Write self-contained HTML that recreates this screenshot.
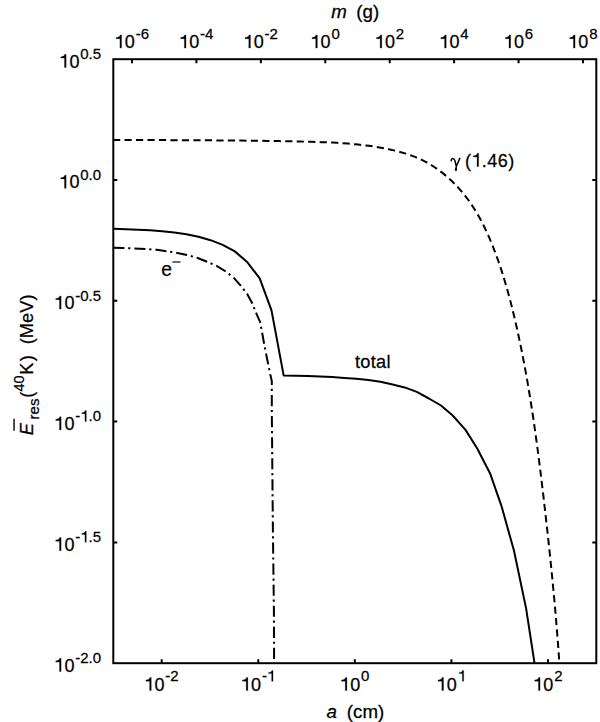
<!DOCTYPE html>
<html><head><meta charset="utf-8"><style>
html,body{margin:0;padding:0;background:#fff;width:600px;height:722px;overflow:hidden}
svg{display:block}
</style></head><body><svg width="600" height="722" viewBox="0 0 600 722" font-family='"Liberation Sans", sans-serif' fill="#000"><style>text,.g1{stroke:#000;stroke-width:0.25px;stroke-linejoin:round}</style><rect x="113.3" y="59.2" width="483.00" height="604.00" fill="none" stroke="#000" stroke-width="2.0"/><path d="M132.00 59.2v4.0 M196.43 59.2v4.0 M260.86 59.2v4.0 M325.29 59.2v4.0 M389.71 59.2v4.0 M454.14 59.2v4.0 M518.57 59.2v4.0 M583.00 59.2v4.0 M161.70 663.2v-4.0 M258.27 663.2v-4.0 M354.85 663.2v-4.0 M451.43 663.2v-4.0 M548.00 663.2v-4.0 M113.3 180.00h4.0 M596.3 180.00h-4.0 M113.3 300.80h4.0 M596.3 300.80h-4.0 M113.3 421.60h4.0 M596.3 421.60h-4.0 M113.3 542.40h4.0 M596.3 542.40h-4.0" stroke="#000" stroke-width="2.0" fill="none"/><g transform="translate(114.24,48.10) scale(1.0,1.04)"><text x="10.61" y="0" font-size="18.0">0</text><path class="g1" d="M7.33 0.00 L7.33 -12.65 L6.01 -12.65 C5.58 -11.16 4.50 -10.40 1.96 -10.21 L1.96 -9.05 L5.69 -9.05 L5.69 0.00Z"/></g><g transform="translate(135.64,39.30) scale(1.0,1.03)"><text x="0.00 5.00" y="0" font-size="15.0">-6</text></g><g transform="translate(178.67,48.10) scale(1.0,1.04)"><text x="10.61" y="0" font-size="18.0">0</text><path class="g1" d="M7.33 0.00 L7.33 -12.65 L6.01 -12.65 C5.58 -11.16 4.50 -10.40 1.96 -10.21 L1.96 -9.05 L5.69 -9.05 L5.69 0.00Z"/></g><g transform="translate(200.07,39.30) scale(1.0,1.03)"><text x="0.00 5.00" y="0" font-size="15.0">-4</text></g><g transform="translate(243.10,48.10) scale(1.0,1.04)"><text x="10.61" y="0" font-size="18.0">0</text><path class="g1" d="M7.33 0.00 L7.33 -12.65 L6.01 -12.65 C5.58 -11.16 4.50 -10.40 1.96 -10.21 L1.96 -9.05 L5.69 -9.05 L5.69 0.00Z"/></g><g transform="translate(264.50,39.30) scale(1.0,1.03)"><text x="0.00 5.00" y="0" font-size="15.0">-2</text></g><g transform="translate(310.02,48.10) scale(1.0,1.04)"><text x="10.61" y="0" font-size="18.0">0</text><path class="g1" d="M7.33 0.00 L7.33 -12.65 L6.01 -12.65 C5.58 -11.16 4.50 -10.40 1.96 -10.21 L1.96 -9.05 L5.69 -9.05 L5.69 0.00Z"/></g><g transform="translate(331.42,39.30) scale(1.0,1.03)"><text x="0.00" y="0" font-size="15.0">0</text></g><g transform="translate(374.45,48.10) scale(1.0,1.04)"><text x="10.61" y="0" font-size="18.0">0</text><path class="g1" d="M7.33 0.00 L7.33 -12.65 L6.01 -12.65 C5.58 -11.16 4.50 -10.40 1.96 -10.21 L1.96 -9.05 L5.69 -9.05 L5.69 0.00Z"/></g><g transform="translate(395.85,39.30) scale(1.0,1.03)"><text x="0.00" y="0" font-size="15.0">2</text></g><g transform="translate(438.88,48.10) scale(1.0,1.04)"><text x="10.61" y="0" font-size="18.0">0</text><path class="g1" d="M7.33 0.00 L7.33 -12.65 L6.01 -12.65 C5.58 -11.16 4.50 -10.40 1.96 -10.21 L1.96 -9.05 L5.69 -9.05 L5.69 0.00Z"/></g><g transform="translate(460.28,39.30) scale(1.0,1.03)"><text x="0.00" y="0" font-size="15.0">4</text></g><g transform="translate(503.31,48.10) scale(1.0,1.04)"><text x="10.61" y="0" font-size="18.0">0</text><path class="g1" d="M7.33 0.00 L7.33 -12.65 L6.01 -12.65 C5.58 -11.16 4.50 -10.40 1.96 -10.21 L1.96 -9.05 L5.69 -9.05 L5.69 0.00Z"/></g><g transform="translate(524.71,39.30) scale(1.0,1.03)"><text x="0.00" y="0" font-size="15.0">6</text></g><g transform="translate(567.74,48.10) scale(1.0,1.04)"><text x="10.61" y="0" font-size="18.0">0</text><path class="g1" d="M7.33 0.00 L7.33 -12.65 L6.01 -12.65 C5.58 -11.16 4.50 -10.40 1.96 -10.21 L1.96 -9.05 L5.69 -9.05 L5.69 0.00Z"/></g><g transform="translate(589.14,39.30) scale(1.0,1.03)"><text x="0.00" y="0" font-size="15.0">8</text></g><g transform="translate(143.94,690.60) scale(1.0,1.04)"><text x="10.61" y="0" font-size="18.0">0</text><path class="g1" d="M7.33 0.00 L7.33 -12.65 L6.01 -12.65 C5.58 -11.16 4.50 -10.40 1.96 -10.21 L1.96 -9.05 L5.69 -9.05 L5.69 0.00Z"/></g><g transform="translate(165.34,681.30) scale(1.0,1.03)"><text x="0.00 5.00" y="0" font-size="15.0">-2</text></g><g transform="translate(240.52,690.60) scale(1.0,1.04)"><text x="10.61" y="0" font-size="18.0">0</text><path class="g1" d="M7.33 0.00 L7.33 -12.65 L6.01 -12.65 C5.58 -11.16 4.50 -10.40 1.96 -10.21 L1.96 -9.05 L5.69 -9.05 L5.69 0.00Z"/></g><g transform="translate(261.92,681.30) scale(1.0,1.03)"><text x="0.00" y="0" font-size="15.0">-</text><path class="g1" d="M11.10 0.00 L11.10 -10.54 L10.01 -10.54 C9.65 -9.30 8.75 -8.67 6.63 -8.50 L6.63 -7.54 L9.74 -7.54 L9.74 0.00Z"/></g><g transform="translate(339.59,690.60) scale(1.0,1.04)"><text x="10.61" y="0" font-size="18.0">0</text><path class="g1" d="M7.33 0.00 L7.33 -12.65 L6.01 -12.65 C5.58 -11.16 4.50 -10.40 1.96 -10.21 L1.96 -9.05 L5.69 -9.05 L5.69 0.00Z"/></g><g transform="translate(360.99,681.30) scale(1.0,1.03)"><text x="0.00" y="0" font-size="15.0">0</text></g><g transform="translate(436.16,690.60) scale(1.0,1.04)"><text x="10.61" y="0" font-size="18.0">0</text><path class="g1" d="M7.33 0.00 L7.33 -12.65 L6.01 -12.65 C5.58 -11.16 4.50 -10.40 1.96 -10.21 L1.96 -9.05 L5.69 -9.05 L5.69 0.00Z"/></g><g transform="translate(457.56,681.30) scale(1.0,1.03)"><path class="g1" d="M6.10 0.00 L6.10 -10.54 L5.01 -10.54 C4.65 -9.30 3.75 -8.67 1.64 -8.50 L1.64 -7.54 L4.74 -7.54 L4.74 0.00Z"/></g><g transform="translate(532.74,690.60) scale(1.0,1.04)"><text x="10.61" y="0" font-size="18.0">0</text><path class="g1" d="M7.33 0.00 L7.33 -12.65 L6.01 -12.65 C5.58 -11.16 4.50 -10.40 1.96 -10.21 L1.96 -9.05 L5.69 -9.05 L5.69 0.00Z"/></g><g transform="translate(554.14,681.30) scale(1.0,1.03)"><text x="0.00" y="0" font-size="15.0">2</text></g><g transform="translate(58.80,67.50) scale(1.0,1.04)"><text x="10.61" y="0" font-size="18.0">0</text><path class="g1" d="M7.33 0.00 L7.33 -12.65 L6.01 -12.65 C5.58 -11.16 4.50 -10.40 1.96 -10.21 L1.96 -9.05 L5.69 -9.05 L5.69 0.00Z"/></g><g transform="translate(80.20,59.00) scale(1.0,1.03)"><text x="0.00 8.34 12.51" y="0" font-size="15.0">0.5</text></g><g transform="translate(58.80,188.30) scale(1.0,1.04)"><text x="10.61" y="0" font-size="18.0">0</text><path class="g1" d="M7.33 0.00 L7.33 -12.65 L6.01 -12.65 C5.58 -11.16 4.50 -10.40 1.96 -10.21 L1.96 -9.05 L5.69 -9.05 L5.69 0.00Z"/></g><g transform="translate(80.20,179.80) scale(1.0,1.03)"><text x="0.00 8.34 12.51" y="0" font-size="15.0">0.0</text></g><g transform="translate(53.80,309.10) scale(1.0,1.04)"><text x="10.61" y="0" font-size="18.0">0</text><path class="g1" d="M7.33 0.00 L7.33 -12.65 L6.01 -12.65 C5.58 -11.16 4.50 -10.40 1.96 -10.21 L1.96 -9.05 L5.69 -9.05 L5.69 0.00Z"/></g><g transform="translate(75.20,300.60) scale(1.0,1.03)"><text x="0.00 5.00 13.34 17.50" y="0" font-size="15.0">-0.5</text></g><g transform="translate(53.80,429.90) scale(1.0,1.04)"><text x="10.61" y="0" font-size="18.0">0</text><path class="g1" d="M7.33 0.00 L7.33 -12.65 L6.01 -12.65 C5.58 -11.16 4.50 -10.40 1.96 -10.21 L1.96 -9.05 L5.69 -9.05 L5.69 0.00Z"/></g><g transform="translate(75.20,421.40) scale(1.0,1.03)"><text x="0.00 13.34 17.50" y="0" font-size="15.0">-.0</text><path class="g1" d="M11.10 0.00 L11.10 -10.54 L10.01 -10.54 C9.65 -9.30 8.75 -8.67 6.63 -8.50 L6.63 -7.54 L9.74 -7.54 L9.74 0.00Z"/></g><g transform="translate(53.80,550.70) scale(1.0,1.04)"><text x="10.61" y="0" font-size="18.0">0</text><path class="g1" d="M7.33 0.00 L7.33 -12.65 L6.01 -12.65 C5.58 -11.16 4.50 -10.40 1.96 -10.21 L1.96 -9.05 L5.69 -9.05 L5.69 0.00Z"/></g><g transform="translate(75.20,542.20) scale(1.0,1.03)"><text x="0.00 13.34 17.50" y="0" font-size="15.0">-.5</text><path class="g1" d="M11.10 0.00 L11.10 -10.54 L10.01 -10.54 C9.65 -9.30 8.75 -8.67 6.63 -8.50 L6.63 -7.54 L9.74 -7.54 L9.74 0.00Z"/></g><g transform="translate(53.80,671.50) scale(1.0,1.04)"><text x="10.61" y="0" font-size="18.0">0</text><path class="g1" d="M7.33 0.00 L7.33 -12.65 L6.01 -12.65 C5.58 -11.16 4.50 -10.40 1.96 -10.21 L1.96 -9.05 L5.69 -9.05 L5.69 0.00Z"/></g><g transform="translate(75.20,663.00) scale(1.0,1.03)"><text x="0.00 5.00 13.34 17.50" y="0" font-size="15.0">-2.0</text></g><g transform="translate(331.19,18.00) scale(1.1,1.04)"><text x="0.00" y="0" font-size="17.0" font-style="italic">m</text></g><g transform="translate(356.34,18.00) scale(1.1,1.04)"><text x="0.00 5.66 15.12" y="0" font-size="17.0">(g)</text></g><g transform="translate(326.38,717.50) scale(1.1,1.04)"><text x="0.00" y="0" font-size="17.0" font-style="italic">a</text></g><g transform="translate(346.84,717.50) scale(1.1,1.04)"><text x="0.00 5.66 14.16 28.32" y="0" font-size="17.0">(cm)</text></g><g transform="translate(33.4,435) rotate(-90)"><g transform="translate(-0.16,0.00) scale(1.0,1.0)"><text x="0.00" y="0" font-size="18.3" font-style="italic">E</text></g><g transform="translate(15.60,6.00) scale(1.0,1.0)"><text x="0.00 5.00 13.34" y="0" font-size="15.0">res</text></g><g transform="translate(37.27,0.00) scale(1.0,1.0)"><text x="0.00" y="0" font-size="18.3">(</text></g><g transform="translate(43.57,-9.60) scale(1.0,1.0)"><text x="0.00 8.06" y="0" font-size="14.5">40</text></g><g transform="translate(60.20,0.00) scale(1.0,1.0)"><text x="0.00" y="0" font-size="18.3">K</text></g><g transform="translate(73.69,0.00) scale(1.0,1.0)"><text x="0.00" y="0" font-size="18.3">)</text></g><g transform="translate(90.67,0.00) scale(1.0,1.0)"><text x="0.00 6.09 21.34 31.52 43.72" y="0" font-size="18.3">(MeV)</text></g><path d="M4.2 -19.35h12.1" stroke="#000" stroke-width="1.4"/></g><path d="M451.2 160.9C451.0 158.3 453.6 157.2 454.9 160.6L456.3 166.4M459.8 158.4L456.3 166.4L455.9 170.2" fill="none" stroke="#000" stroke-width="1.5" stroke-linecap="round" stroke-linejoin="round"/><ellipse cx="455.9" cy="169.4" rx="1.05" ry="1.7"/><g transform="translate(464.88,166.50) scale(1.0,1.04)"><text x="0.00 16.90 22.36 32.82 43.28" y="0" font-size="18.0">(.46)</text><path class="g1" d="M13.77 0.00 L13.77 -12.65 L12.46 -12.65 C12.02 -11.16 10.94 -10.40 8.41 -10.21 L8.41 -9.05 L12.13 -9.05 L12.13 0.00Z"/></g><g transform="translate(161.18,275.60) scale(1.0,1.0)"><text x="0.00" y="0" font-size="19.3">e</text></g><path d="M172.4 262h8.1" stroke="#3a3a3a" stroke-width="1.5"/><g transform="translate(355.02,367.60) scale(1.0,1.06)"><text x="0.00 5.31 15.68 20.99 31.36" y="0" font-size="18.2">total</text></g><path d="M113.03 139.90 L118.27 139.93 L123.53 139.95 L128.79 139.97 L134.07 139.99 L139.35 140.01 L144.65 140.03 L149.95 140.05 L155.26 140.07 L160.59 140.09 L165.91 140.11 L171.25 140.14 L176.59 140.16 L181.94 140.18 L187.30 140.21 L192.66 140.24 L198.02 140.26 L203.39 140.30 L208.76 140.33 L214.14 140.37 L219.51 140.41 L224.89 140.45 L230.27 140.50 L235.65 140.55 L241.03 140.60 L246.42 140.66 L251.80 140.72 L257.18 140.79 L262.55 140.86 L267.93 140.94 L273.30 141.03 L278.67 141.12 L284.03 141.21 L289.40 141.31 L294.75 141.42 L300.10 141.54 L305.45 141.66 L310.79 141.80 L316.12 141.95 L321.44 142.13 L326.76 142.34 L332.06 142.58 L337.36 142.87 L342.65 143.21 L347.93 143.60 L353.19 144.06 L358.45 144.58 L363.70 145.17 L368.93 145.84 L374.15 146.59 L379.35 147.44 L384.55 148.38 L389.72 149.43 L394.87 150.60 L399.99 151.92 L405.06 153.39 L410.07 155.05 L415.02 156.91 L419.89 158.99 L424.68 161.32 L429.37 163.90 L433.95 166.75 L438.41 169.83 L442.75 173.13 L446.95 176.63 L451.00 180.30 L454.89 184.12 L458.62 188.07 L462.16 192.14 L465.52 196.29 L468.70 200.52 L471.71 204.84 L474.55 209.22 L477.25 213.68 L479.82 218.21 L482.26 222.80 L484.58 227.45 L486.80 232.17 L488.93 236.94 L490.98 241.77 L492.95 246.64 L494.86 251.56 L496.71 256.53 L498.49 261.54 L500.22 266.59 L501.88 271.67 L503.49 276.79 L505.05 281.93 L506.56 287.10 L508.02 292.30 L509.43 297.51 L510.80 302.74 L512.13 307.99 L513.42 313.24 L514.67 318.51 L515.89 323.78 L517.08 329.05 L518.23 334.32 L519.36 339.59 L520.46 344.86 L521.53 350.13 L522.57 355.39 L523.59 360.66 L524.59 365.92 L525.56 371.18 L526.50 376.44 L527.43 381.70 L528.33 386.96 L529.21 392.22 L530.07 397.48 L530.91 402.74 L531.73 408.00 L532.53 413.26 L533.32 418.52 L534.09 423.77 L534.84 429.03 L535.58 434.29 L536.30 439.55 L537.02 444.81 L537.71 450.07 L538.40 455.33 L539.07 460.59 L539.74 465.85 L540.39 471.11 L541.04 476.38 L541.67 481.64 L542.30 486.91 L542.93 492.17 L543.55 497.44 L544.16 502.71 L544.76 507.98 L545.37 513.26 L545.96 518.53 L546.56 523.81 L547.14 529.09 L547.72 534.37 L548.30 539.66 L548.86 544.94 L549.43 550.23 L549.98 555.52 L550.53 560.81 L551.07 566.11 L551.60 571.41 L552.13 576.71 L552.64 582.02 L553.15 587.32 L553.65 592.64 L554.15 597.95 L554.63 603.27 L555.10 608.59 L555.57 613.92 L556.03 619.24 L556.47 624.58 L556.91 629.91 L557.33 635.25 L557.75 640.60 L558.16 645.95 L558.55 651.30 L558.93 656.66 L559.31 662.02" fill="none" stroke="#000" stroke-width="2" stroke-dasharray="7.2 4.28" stroke-dashoffset="0.0"/><path d="M113.30 228.80 L125.90 229.17 L138.00 229.65 L150.10 230.25 L162.20 231.14 L174.30 232.47 L186.40 234.20 L198.50 236.77 L210.60 240.19 L222.70 244.87 L234.80 251.37 L247.10 261.90 L259.70 278.40 L271.50 310.40 L283.70 375.60 L295.80 375.75 L307.90 376.01 L320.00 376.45 L332.10 377.06 L344.20 377.88 L356.30 378.77 L368.40 380.02 L380.50 381.78 L392.60 384.43 L404.70 387.41 L416.80 391.91 L428.90 398.50 L441.00 405.50 L452.70 415.50 L465.50 429.90 L477.10 448.20 L490.00 473.20 L501.60 506.40 L514.00 550.80 L526.10 608.40 L534.50 663.00" fill="none" stroke="#000" stroke-width="2" stroke-linejoin="round"/><path d="M113.30 247.80 L134.50 248.40 L157.00 249.75 L172.00 252.00 L187.00 255.00 L197.00 257.80 L207.00 261.80 L216.00 265.50 L225.00 271.00 L233.50 277.50 L241.00 286.00 L247.10 293.80 L252.20 303.30 L256.10 312.80 L260.20 322.20 L265.00 348.50 L270.30 374.50 L271.80 381.00 L271.80 410.00 L272.90 530.00 L273.90 610.00 L274.10 663.00" fill="none" stroke="#000" stroke-width="2" stroke-dasharray="11.13 3.78 2.18 3.98" stroke-dashoffset="0.0"/></svg></body></html>
